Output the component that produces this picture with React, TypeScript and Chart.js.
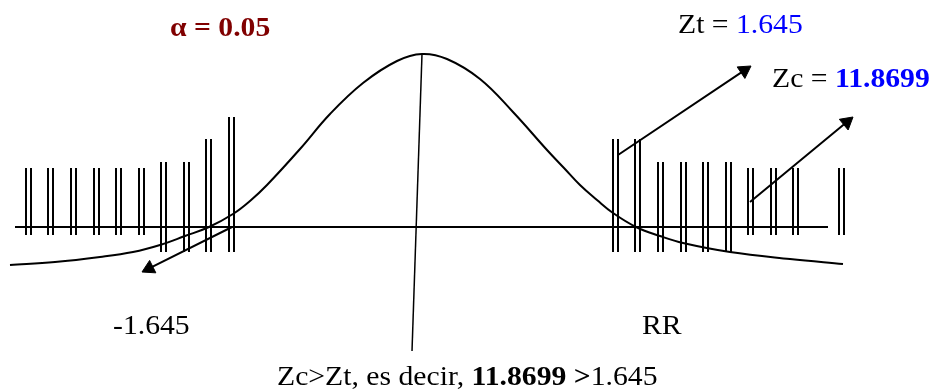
import React, { useEffect, useRef } from "react";
import { Chart, registerables } from "chart.js";

Chart.register(...registerables);

// Diagram coordinate system: x = horizontal position (0..935), y = height above the horizontal axis line.
const X_MIN = 0;
const X_MAX = 935;
const Y_MIN = -163;
const Y_MAX = 227;

// Bell curve
const curveX = [10, 55, 100, 133, 160, 185, 209, 233, 250, 267, 300, 330, 363, 397, 422, 447, 480, 513, 547, 564, 580, 597, 613, 636, 660, 683, 730, 790, 843];
const curveY = [-38, -35, -30, -25, -18, -9, 0, 13, 26, 42, 78, 113, 144, 166, 173, 168, 148, 115, 77, 59, 42, 27, 14, 0, -9, -16, -25, -32, -37];

// Horizontal axis line
const axisX = [15, 828];

// Line from the peak downwards
const centerLineX = [422, 412];
const centerLineY = [173, -124];

// Hatch pairs (rejection regions)
const hatchX = [28, 50, 73, 96, 118, 141, 163, 186, 208, 231, 615, 637, 660, 683, 705, 728, 750, 773, 795, 841];
const hatchTop = [59, 59, 59, 59, 59, 59, 65, 65, 88, 110, 88, 88, 65, 65, 65, 65, 59, 59, 59, 59];
const hatchBottom = [-8, -8, -8, -8, -8, -8, -25, -25, -25, -25, -25, -25, -25, -25, -25, -25, -8, -8, -8, -8];

// Arrows
const arrowFromX = [232, 618, 750];
const arrowFromY = [0, 72, 25];
const arrowToX = [142, 751, 853];
const arrowToY = [-45, 161, 110];

// Text labels
const labelX = [170, 678, 772, 113, 642, 277];
const labelY = [191, 194, 140, -107, -107, -158];
const labelParts = [
  ["α = 0.05"],
  ["Zt = ", "1.645"],
  ["Zc = ", "11.8699"],
  ["-1.645"],
  ["RR"],
  ["Zc>Zt, es decir, ", "11.8699 >", "1.645"],
];
const labelColors = [
  ["#800000"],
  ["#000000", "#0000ff"],
  ["#000000", "#0000ff"],
  ["#000000"],
  ["#000000"],
  ["#000000", "#000000", "#000000"],
];
const labelBold = [
  [true],
  [false, false],
  [false, true],
  [false],
  [false],
  [false, true, false],
];

const FONT_SIZE = 27;
const TEXT_STRETCH = 1.1;
const HEAD_RADIUS = 8;

const textPlugin = {
  id: "diagramLabels",
  afterDatasetsDraw(chart: any) {
    const { ctx, scales } = chart;
    const xs = scales.x;
    const ys = scales.y;
    ctx.save();
    ctx.textBaseline = "alphabetic";
    ctx.textAlign = "left";
    labelParts.forEach((parts, i) => {
      const px = xs.getPixelForValue(labelX[i]);
      const py = ys.getPixelForValue(labelY[i]);
      ctx.save();
      ctx.translate(px, py);
      ctx.scale(TEXT_STRETCH, 1);
      let cx = 0;
      parts.forEach((t, j) => {
        ctx.font = `${labelBold[i][j] ? "bold " : ""}${FONT_SIZE}px "Liberation Serif", "Times New Roman", serif`;
        ctx.fillStyle = labelColors[i][j];
        ctx.fillText(t, cx, 0);
        cx += ctx.measureText(t).width;
      });
      ctx.restore();
    });
    ctx.restore();
  },
};

export default function App() {
  const ref = useRef<HTMLCanvasElement>(null);

  useEffect(() => {
    document.body.style.margin = "0";
    const canvas = ref.current;
    if (!canvas) return;

    const curveData = curveX.map((x, i) => ({ x, y: curveY[i] }));
    const axisData = axisX.map((x) => ({ x, y: 0 }));
    const centerData = centerLineX.map((x, i) => ({ x, y: centerLineY[i] }));

    const hatchData: any[] = [];
    hatchX.forEach((cx, i) => {
      [cx - 2, cx + 3].forEach((lx) => {
        hatchData.push({ x: lx, y: hatchBottom[i] });
        hatchData.push({ x: lx, y: hatchTop[i] });
        hatchData.push({ x: lx, y: null });
      });
    });

    const arrowLines: any[] = [];
    const headData: any[] = [];
    const headRot: number[] = [];
    arrowFromX.forEach((fx, i) => {
      const dx = arrowToX[i] - fx;
      const dy = arrowToY[i] - arrowFromY[i];
      const len = Math.sqrt(dx * dx + dy * dy);
      const ux = dx / len;
      const uy = dy / len;
      const cx = arrowToX[i] - ux * HEAD_RADIUS;
      const cy = arrowToY[i] - uy * HEAD_RADIUS;
      arrowLines.push({ x: fx, y: arrowFromY[i] });
      arrowLines.push({ x: cx, y: cy });
      arrowLines.push({ x: cx, y: null });
      headData.push({ x: cx, y: cy });
      headRot.push((Math.atan2(ux, uy) * 180) / Math.PI);
    });

    const lineDs = (data: any[], width: number, extra: any = {}) => ({
      data,
      showLine: true,
      borderColor: "#000",
      backgroundColor: "#000",
      borderWidth: width,
      pointRadius: 0,
      pointHoverRadius: 0,
      spanGaps: false,
      fill: false,
      ...extra,
    });

    const chart = new Chart(canvas, {
      type: "scatter",
      data: {
        datasets: [
          lineDs(axisData, 2),
          lineDs(hatchData, 2),
          lineDs(curveData, 2, { tension: 0.4 }),
          lineDs(centerData, 1.5),
          lineDs(arrowLines, 2),
          {
            data: headData,
            showLine: false,
            pointStyle: "triangle",
            pointRadius: HEAD_RADIUS,
            pointHoverRadius: HEAD_RADIUS,
            pointRotation: headRot,
            pointBackgroundColor: "#000",
            pointBorderColor: "#000",
            pointBorderWidth: 1,
          } as any,
        ],
      },
      options: {
        animation: false,
        responsive: false,
        devicePixelRatio: 1,
        events: [],
        layout: { padding: 0, autoPadding: false },
        plugins: {
          legend: { display: false },
          tooltip: { enabled: false },
        },
        scales: {
          x: { type: "linear", min: X_MIN, max: X_MAX, display: false },
          y: { type: "linear", min: Y_MIN, max: Y_MAX, display: false },
        },
      },
      plugins: [textPlugin],
    });

    return () => chart.destroy();
  }, []);

  return (
    <div style={{ width: 935, height: 390, background: "#fff" }}>
      <canvas ref={ref} width={935} height={390} style={{ display: "block" }} />
    </div>
  );
}
